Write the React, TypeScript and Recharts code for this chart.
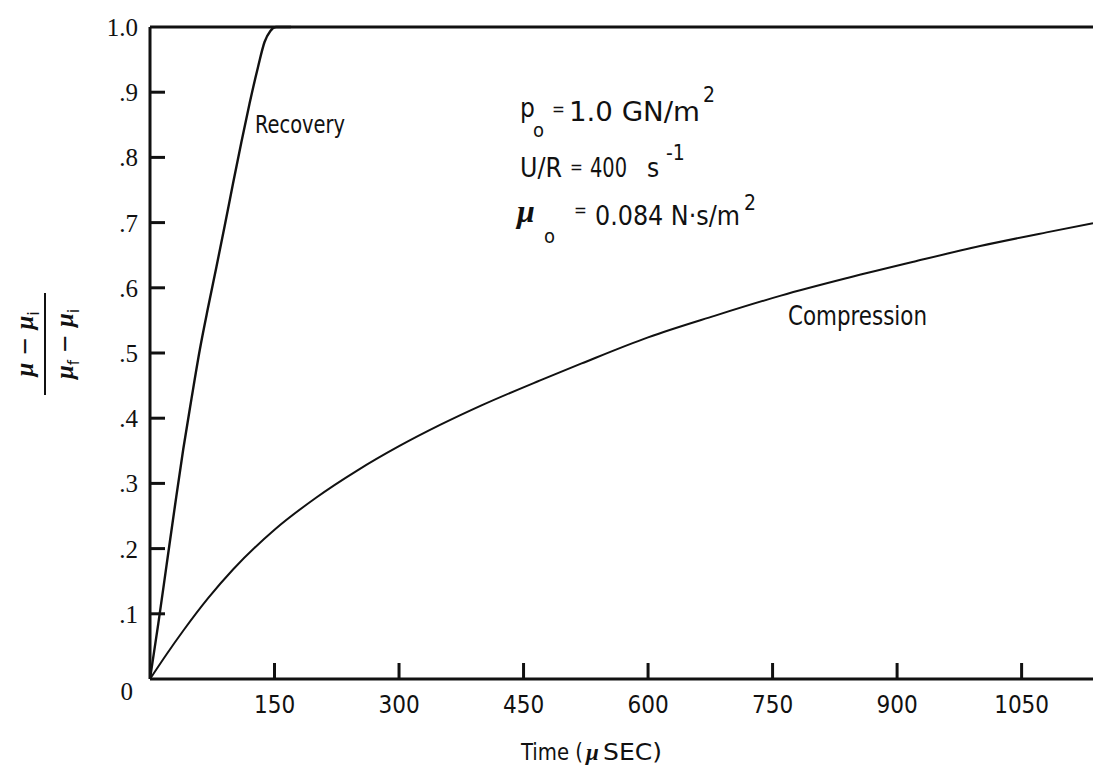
import React from "react";
import { LineChart, Line, XAxis, YAxis, ReferenceLine } from "recharts";

// values
const recoveryTime = [0, 10, 20, 30, 40, 50, 60, 70, 80, 90, 100, 110, 120, 130, 138, 145, 152, 170];
const recoveryValue = [0, 0.085, 0.175, 0.265, 0.352, 0.43, 0.505, 0.57, 0.632, 0.695, 0.76, 0.823, 0.883, 0.938, 0.977, 0.994, 1.0, 1.0];

const compressionTime = [0, 20, 40, 70, 100, 150, 200, 250, 300, 350, 400, 470, 520, 600, 680, 760, 840, 920, 1000, 1080, 1136];
const compressionValue = [0, 0.038, 0.074, 0.124, 0.168, 0.229, 0.278, 0.32, 0.357, 0.39, 0.42, 0.458, 0.484, 0.524, 0.557, 0.588, 0.615, 0.64, 0.664, 0.685, 0.699];

const timeTicks = [150, 300, 450, 600, 750, 900, 1050];
const ratioTicks = [0, 0.1, 0.2, 0.3, 0.4, 0.5, 0.6, 0.7, 0.8, 0.9, 1.0];

const recoveryData = recoveryTime.map((t, i) => ({ t, v: recoveryValue[i] }));
const compressionData = compressionTime.map((t, i) => ({ t, v: compressionValue[i] }));

const W = 1093;
const H = 768;
const INK = "#111";
const SANS = "'Liberation Sans Narrow', 'DejaVu Sans Condensed', 'Liberation Sans', sans-serif";
const SERIF = "'Liberation Serif', 'DejaVu Serif', serif";

function ratioLabel(v: number) {
  if (v === 0) return "0";
  if (v === 1) return "1.0";
  return "." + Math.round(v * 10);
}

function TimeTick(props: any) {
  const { x, y, payload } = props;
  return (
    <g>
      <line x1={x} x2={x} y1={y} y2={y - 16} stroke={INK} strokeWidth={3} />
      <text x={x} y={y + 34} textAnchor="middle" fontFamily={SANS} fontSize={24} fill={INK}>
        {payload.value}
      </text>
    </g>
  );
}

function RatioTick(props: any) {
  const { x, y, payload } = props;
  const v = payload.value;
  const isZero = v === 0;
  return (
    <g>
      {!isZero && v !== 1 && (
        <line x1={x} x2={x + 15} y1={y} y2={y} stroke={INK} strokeWidth={3} />
      )}
      <text
        x={isZero ? x - 17 : x - 12}
        y={isZero ? y + 21 : y + 9}
        textAnchor="end"
        fontFamily={SERIF}
        fontSize={25}
        fill={INK}
      >
        {ratioLabel(v)}
      </text>
    </g>
  );
}

export default function App() {
  return (
    <div style={{ position: "absolute", left: 0, top: 0, width: W, height: H, background: "#fff" }}>
      <LineChart width={W} height={H} margin={{ top: 27, right: 0, bottom: 0, left: 0 }}>
        <XAxis
          dataKey="t"
          type="number"
          domain={[0, 1136]}
          ticks={timeTicks}
          interval={0}
          allowDataOverflow
          height={89}
          tickSize={0}
          tickMargin={0}
          tickLine={false}
          tick={TimeTick}
          axisLine={{ stroke: INK, strokeWidth: 3 }}
        />
        <YAxis
          type="number"
          domain={[0, 1]}
          ticks={ratioTicks}
          interval={0}
          width={150}
          tickSize={0}
          tickMargin={0}
          tickLine={false}
          tick={RatioTick}
          axisLine={{ stroke: INK, strokeWidth: 3 }}
        />
        <ReferenceLine y={1} stroke={INK} strokeWidth={3} />
        <Line
          data={recoveryData}
          dataKey="v"
          type="monotone"
          stroke={INK}
          strokeWidth={2.4}
          dot={false}
          isAnimationActive={false}
        />
        <Line
          data={compressionData}
          dataKey="v"
          type="monotone"
          stroke={INK}
          strokeWidth={2}
          dot={false}
          isAnimationActive={false}
        />
      </LineChart>

      <svg
        width={W}
        height={H}
        style={{ position: "absolute", left: 0, top: 0, pointerEvents: "none" }}
      >
        <g fill={INK} fontFamily={SANS}>
          {/* curve labels */}
          <text x={255} y={133} fontSize={25} textLength={90} lengthAdjust="spacingAndGlyphs">
            Recovery
          </text>
          <text x={788} y={325} fontSize={27} textLength={139} lengthAdjust="spacingAndGlyphs">
            Compression
          </text>

          {/* parameters */}
          <text x={520} y={117} fontSize={26}>p</text>
          <text x={533} y={137} fontSize={20}>o</text>
          <text x={552} y={115} fontSize={17}>=</text>
          <text x={569} y={121} fontSize={26} textLength={131} lengthAdjust="spacingAndGlyphs">
            1.0 GN/m
          </text>
          <text x={703} y={102} fontSize={21}>2</text>

          <text x={520} y={177} fontSize={26} textLength={42} lengthAdjust="spacingAndGlyphs">U/R</text>
          <text x={570} y={173} fontSize={17}>=</text>
          <text x={590} y={177} fontSize={26} textLength={37} lengthAdjust="spacingAndGlyphs">400</text>
          <text x={647} y={177} fontSize={26}>s</text>
          <text x={666} y={160} fontSize={21}>-1</text>

          <text x={517} y={222} fontSize={32} fontFamily={SERIF} fontWeight="bold" fontStyle="italic">
            μ
          </text>
          <text x={544} y={243} fontSize={20}>o</text>
          <text x={574} y={216} fontSize={17}>=</text>
          <text x={595} y={225} fontSize={26} textLength={145} lengthAdjust="spacingAndGlyphs">
            0.084 N·s/m
          </text>
          <text x={744} y={210} fontSize={21}>2</text>

          {/* x axis title */}
          <text x={521} y={760} fontSize={23} textLength={62} lengthAdjust="spacingAndGlyphs">
            Time (
          </text>
          <text x={586} y={760} fontSize={23} fontFamily={SERIF} fontWeight="bold" fontStyle="italic">
            μ
          </text>
          <text x={603} y={760} fontSize={23} textLength={59} lengthAdjust="spacingAndGlyphs">
            SEC)
          </text>

          {/* y axis title: fraction, rotated */}
          <g transform="translate(45,344) rotate(-90)" fontSize={25}>
            <text x={0} y={-12} textAnchor="middle">
              <tspan fontFamily={SERIF} fontWeight="bold" fontStyle="italic">μ</tspan>
              <tspan> − </tspan>
              <tspan fontFamily={SERIF} fontWeight="bold" fontStyle="italic">μ</tspan>
              <tspan fontSize={16} dy={6}>i</tspan>
            </text>
            <line x1={-51} x2={51} y1={0} y2={0} stroke={INK} strokeWidth={2} />
            <text x={0} y={28} textAnchor="middle">
              <tspan fontFamily={SERIF} fontWeight="bold" fontStyle="italic">μ</tspan>
              <tspan fontSize={16} dy={6}>f</tspan>
              <tspan dy={-6}> − </tspan>
              <tspan fontFamily={SERIF} fontWeight="bold" fontStyle="italic">μ</tspan>
              <tspan fontSize={16} dy={6}>i</tspan>
            </text>
          </g>
        </g>
      </svg>
    </div>
  );
}
